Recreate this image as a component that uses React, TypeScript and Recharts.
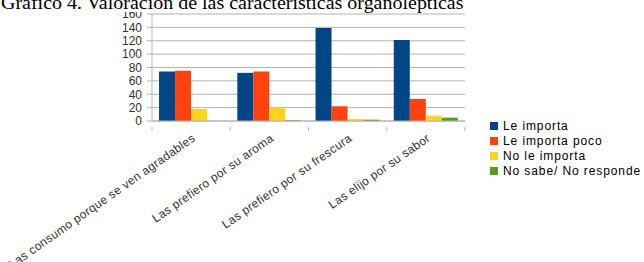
import React from 'react';
import { BarChart, Bar, XAxis, YAxis, CartesianGrid, Legend } from 'recharts';

// Gráfico 4 - valoración de las características organolépticas
const categorias = [
  'Las consumo porque se ven agradables',
  'Las prefiero por su aroma',
  'Las prefiero por su frescura',
  'Las elijo por su sabor',
];
const leImporta = [74, 72, 139, 121];
const leImportaPoco = [75, 74, 22, 33];
const noLeImporta = [18, 20, 3, 8];
const noSabe = [0, 1, 2, 5];
const yTicks = [0, 20, 40, 60, 80, 100, 120, 140, 160];

const series = [
  { key: 'leImporta', name: 'Le importa', color: '#004586' },
  { key: 'leImportaPoco', name: 'Le importa poco', color: '#ff420e' },
  { key: 'noLeImporta', name: 'No le importa', color: '#ffd320' },
  { key: 'noSabe', name: 'No sabe/ No responde', color: '#579d1c' },
];

const data = categorias.map((cat, i) => ({
  cat,
  leImporta: leImporta[i],
  leImportaPoco: leImportaPoco[i],
  noLeImporta: noLeImporta[i],
  noSabe: noSabe[i],
}));

const FONT = '"Liberation Sans", Arial, sans-serif';
const BAND = (465 - 152) / categorias.length;

function CatTick(props: any) {
  const { x, y, payload, index } = props;
  const isLast = index === categorias.length - 1;
  return (
    <g>
      <line x1={x - BAND / 2} x2={x - BAND / 2} y1={y - 2} y2={y + 2} stroke="#b3b3b3" />
      {isLast && <line x1={x + BAND / 2} x2={x + BAND / 2} y1={y - 2} y2={y + 2} stroke="#b3b3b3" />}
      <g transform={`translate(${x + 5},${y + 11})`}>
        <text
          x={0}
          y={0}
          textAnchor="end"
          transform="rotate(-35)"
          fontSize={12}
          letterSpacing={0.3}
          fontFamily={FONT}
          fill="#333"
        >
          {payload.value}
        </text>
      </g>
    </g>
  );
}

function LegendBox() {
  return (
    <div style={{ fontFamily: FONT, fontSize: 12, color: '#000' }}>
      {series.map((s) => (
        <div key={s.key} style={{ display: 'flex', alignItems: 'center', height: 15, whiteSpace: 'nowrap' }}>
          <span style={{ display: 'inline-block', width: 8, height: 8, background: s.color, marginRight: 5 }} />
          <span style={{ letterSpacing: 0.9 }}>{s.name}</span>
        </div>
      ))}
    </div>
  );
}

export default function App() {
  return (
    <div style={{ position: 'absolute', left: 0, top: 0, width: 644, height: 262, background: '#fff', overflow: 'hidden' }}>
      <BarChart
        width={644}
        height={262}
        data={data}
        margin={{ top: 14, right: 179, bottom: 11, left: 112 }}
        barCategoryGap="9%"
        barGap={0}
      >
        <CartesianGrid vertical={false} stroke="#b3b3b3" />
        <XAxis
          dataKey="cat"
          interval={0}
          height={130}
          tickLine={false}
          axisLine={{ stroke: '#b3b3b3' }}
          tick={<CatTick />}
        />
        <YAxis
          domain={[0, 160]}
          ticks={yTicks}
          interval={0}
          width={40}
          tickSize={5}
          tickMargin={5}
          tickLine={{ stroke: '#b3b3b3' }}
          axisLine={{ stroke: '#b3b3b3' }}
          tick={{ fontSize: 12, fontFamily: FONT, fill: '#333' }}
          orientation="left"
        />
        <YAxis
          yAxisId="r"
          orientation="right"
          domain={[0, 160]}
          width={0}
          tick={false}
          tickLine={false}
          axisLine={{ stroke: '#b3b3b3' }}
        />
        {series.map((s) => (
          <Bar key={s.key} dataKey={s.key} name={s.name} fill={s.color} isAnimationActive={false} />
        ))}
        <Legend
          layout="vertical"
          align="center"
          verticalAlign="middle"
          content={<LegendBox />}
          wrapperStyle={{ left: 490, top: 118, width: 160 }}
        />
      </BarChart>
      <div
        style={{
          position: 'absolute',
          left: 1,
          top: -6,
          height: 18,
          lineHeight: '18px',
          fontFamily: '"Liberation Serif", "Times New Roman", serif',
          fontSize: 18,
          background: '#fff',
          paddingRight: 4,
          whiteSpace: 'nowrap',
          transform: 'scaleX(1.11)',
          transformOrigin: 'left top',
        }}
      >
        Gráfico 4. Valoración de las características organolépticas
      </div>
    </div>
  );
}
